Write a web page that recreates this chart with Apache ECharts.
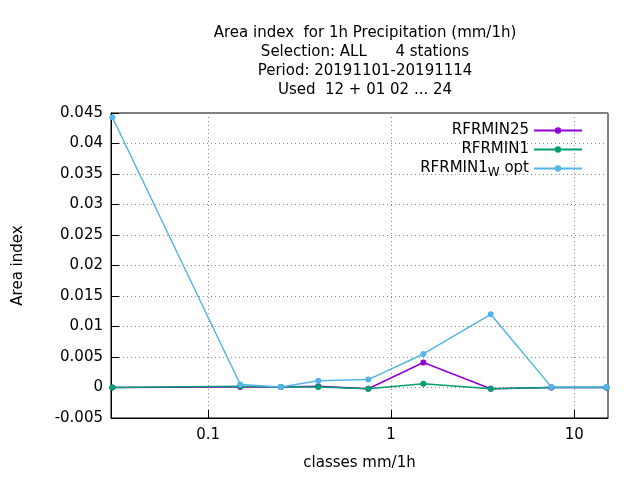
<!DOCTYPE html>
<html lang="en">
<head>
<meta charset="UTF-8">
<title></title>
<style>
    html, body { margin: 0; background: #fff; }
    #chart { width: 640px; height: 480px; }
</style>
</head>
<body>
<div id="chart"></div>
<script src="https://cdn.jsdelivr.net/npm/echarts@6/dist/echarts.min.js"></script>
<script>
    // class centres (mm/1h), drawn on a log10 x axis
    var classes = [0.03, 0.15, 0.25, 0.4, 0.75, 1.5, 3.5, 7.5, 15];
    var rfrmin25 = [0, 0.0001, 0.0001, 0.0002, -0.0002, 0.0041, -0.0002, 0, 0];
    var rfrmin1 = [0, 0.0002, 0.0001, 0.0001, -0.0002, 0.0006, -0.0002, 0, 0];
    var rfrmin1opt = [0.0443, 0.0005, 0.0001, 0.0011, 0.0013, 0.0055, 0.012, 0.0001, 0.0001];
    var xTicks = [0.1, 1, 10];

    function pairs(vals) {
        return classes.map(function (c, i) { return [Math.log10(c), vals[i]]; });
    }
    function mkSeries(name, vals, color) {
        return {
            name: name, type: 'line', data: pairs(vals),
            symbol: 'circle', symbolSize: 6,
            itemStyle: { color: color },
            lineStyle: { color: color, width: 1.5 }
        };
    }

    var font = 'DejaVu Sans';
    var chart = echarts.init(document.getElementById('chart'));
    chart.setOption({
        animation: false,
        textStyle: { fontFamily: font },
        title: {
            text: 'Area index  for 1h Precipitation (mm/1h)\nSelection: ALL      4 stations\nPeriod: 20191101-20191114\nUsed  12 + 01 02 ... 24',
            left: 360, textAlign: 'center', top: 19,
            textStyle: { fontFamily: font, fontSize: 15, fontWeight: 'normal', lineHeight: 19, color: '#000' }
        },
        legend: {
            orient: 'vertical', right: 52, top: 118, itemGap: 4,
            align: 'right', itemWidth: 48, itemHeight: 8,
            textStyle: { fontFamily: font, fontSize: 15, color: '#000',
                rich: { sub: { fontSize: 12, verticalAlign: 'bottom', padding: [8, 0, 0, 0] } } },
            formatter: function (n) { return n === 'RFRMIN1opt' ? 'RFRMIN1{sub|W} opt' : n; },
            data: ['RFRMIN25', 'RFRMIN1', 'RFRMIN1opt']
        },
        grid: { left: 111, right: 32, top: 113, bottom: 62, show: true, borderColor: '#000', borderWidth: 1 },
        xAxis: {
            type: 'value', min: Math.log10(0.0295), max: Math.log10(15.3),
            name: 'classes mm/1h', nameLocation: 'middle', nameGap: 38,
            nameTextStyle: { fontFamily: font, fontSize: 15, color: '#000' },
            axisLine: { onZero: false, lineStyle: { color: '#000' } },
            axisTick: { inside: true, length: 8, customValues: xTicks.map(Math.log10), lineStyle: { color: '#000' } },
            axisLabel: { customValues: xTicks.map(Math.log10), fontSize: 15, color: '#000', margin: 10,
                formatter: function (v) { return String(+Math.pow(10, v).toPrecision(2)); } },
            splitLine: { show: true, lineStyle: { type: [1, 3], color: '#888' } }
        },
        yAxis: {
            type: 'value', min: -0.005, max: 0.045, interval: 0.005,
            name: 'Area index', nameLocation: 'middle', nameGap: 85,
            nameTextStyle: { fontFamily: font, fontSize: 15, color: '#000' },
            axisLine: { show: true, onZero: false, lineStyle: { color: '#000' } },
            axisTick: { inside: true, length: 8, lineStyle: { color: '#000' } },
            axisLabel: { fontSize: 15, color: '#000', margin: 8,
                formatter: function (v) { return String(+v.toFixed(3)); } },
            splitLine: { show: true, lineStyle: { type: [1, 3], color: '#888' } }
        },
        series: [
            mkSeries('RFRMIN25', rfrmin25, '#9400d3'),
            mkSeries('RFRMIN1', rfrmin1, '#009e73'),
            mkSeries('RFRMIN1opt', rfrmin1opt, '#56b4e9')
        ]
    });
</script>
</body>
</html>
